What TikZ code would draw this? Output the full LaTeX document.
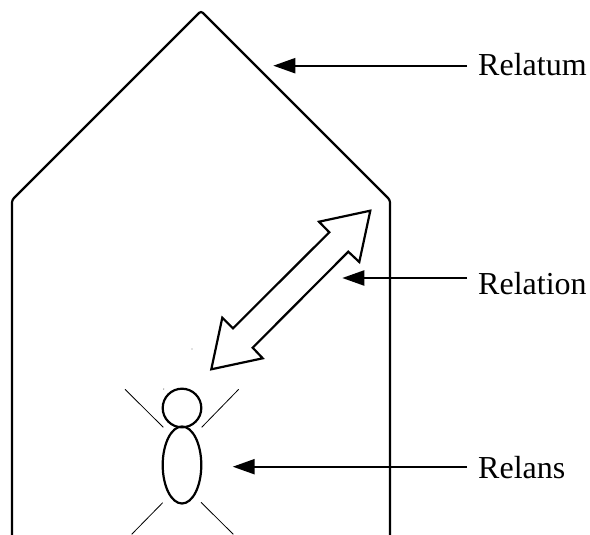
\documentclass[tikz,border=0pt]{standalone}
\usepackage{fontspec}
\setmainfont{Liberation Serif}
\usetikzlibrary{arrows.meta,shapes.geometric}
\tikzset{
	wall/.style={line width=2.2pt,rounded corners=2.5pt},
	pointer/.style={line width=2.2pt,-{Triangle[length=22pt,width=15pt]}},
	limb/.style={line width=0.8pt},
	figure part/.style={draw,line width=2.2pt,inner sep=0pt},
	labeltext/.style={anchor=base west,inner sep=0pt,font=\fontsize{32}{36}\selectfont}
}
\begin{document}
\begin{tikzpicture}[x=1pt,y=-1pt]
	\useasboundingbox (0,0) rectangle (590,535);
	\draw[wall] (12,535) -- (12,200) -- (201,11) -- (390,200) -- (390,535);
	\draw[line width=2.2pt,line join=miter] (370.3,210.7) -- (319,221.7) -- (329.3,232.3) -- (233,328.3) -- (222.3,317.7) -- (211.3,369.3) -- (262.7,358.3) -- (252.7,347.7) -- (348.3,251.7) -- (359.3,262) -- cycle;
	% the figure
	\node[figure part,circle,minimum size=38.6pt] (head) at (182,408) {};
	\node[figure part,ellipse,minimum width=38.6pt,minimum height=77pt] (torso) at (182,465) {};
	\draw[limb] (125,389.3) -- (163.3,427.3);
	\draw[limb] (238.7,389.3) -- (201.7,427.3);
	\draw[limb] (162.7,502.7) -- (131.7,534.3);
	\draw[limb] (201,502.3) -- (233.3,534.3);
	\fill[gray] (192,349) circle (0.7pt);
	\fill[gray] (163.7,389) circle (0.7pt);
	% labels
	\path	(478,76) node[labeltext](relatum) {Relatum}
		(478,294) node[labeltext](relation) {Relation}
		(478,478) node[labeltext](relans) {Relans};
	\coordinate (relatumtip) at (273.3,65.7);
	\coordinate (relationtip) at (342.3,278);
	\coordinate (relanstip) at (232.7,466.7);
	\coordinate (relatumend) at (467,65.7);
	\coordinate (relationend) at (467,278);
	\coordinate (relansend) at (467,466.7);
	\draw[pointer] (relatumend) -- (relatumtip);
	\draw[pointer] (relationend) -- (relationtip);
	\draw[pointer] (relansend) -- (relanstip);
\end{tikzpicture}
\end{document}
